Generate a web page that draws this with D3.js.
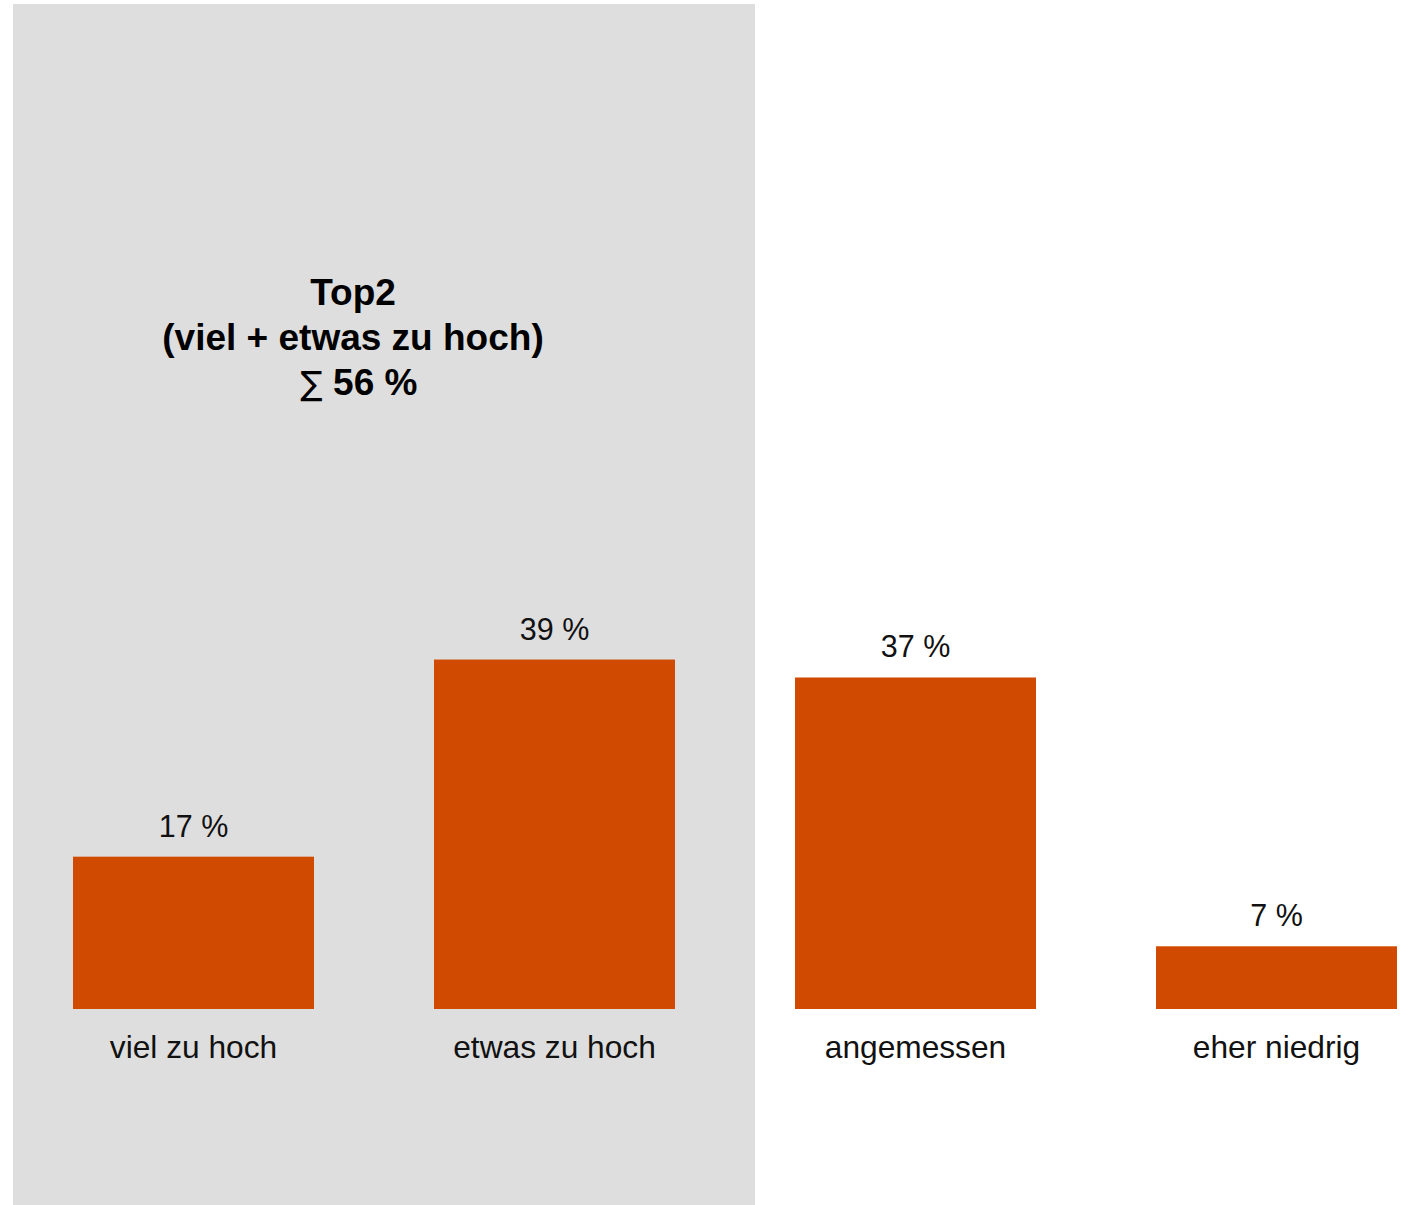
<!DOCTYPE html>
<html>
<head>
<meta charset="utf-8">
<script src="https://cdn.jsdelivr.net/npm/d3@7"></script>
<style>
  html, body { margin: 0; padding: 0; background: #ffffff; }
  svg { display: block; }
</style>
</head>
<body>
<script>
// Survey answers and their shares (percent)
const categories = ["viel zu hoch", "etwas zu hoch", "angemessen", "eher niedrig"];
const values = [17, 39, 37, 7];
// Categories grouped into the highlighted "Top2" block
const topCategories = ["viel zu hoch", "etwas zu hoch"];
const titleLines = ["Top2", "(viel + etwas zu hoch)"];
const sumSymbol = "\u2211";
const sumText = "56 %";

const W = 1404, H = 1205;
const baseline = 1009;
const pxPerPercent = 8.96;
const font = "Liberation Sans, Arial, sans-serif";

const svg = d3.select("body").append("svg")
  .attr("width", W).attr("height", H);

const x = d3.scaleBand()
  .domain(categories)
  .range([73, 1397])
  .paddingInner(120 / 361)
  .paddingOuter(0);

const y = d3.scaleLinear()
  .domain([0, 100])
  .range([baseline, baseline - 100 * pxPerPercent]);

// Shaded background behind the Top2 categories
const hlLeft = x(topCategories[0]) - 60;
const hlRight = x(topCategories[topCategories.length - 1]) + x.bandwidth() + 80;
svg.append("rect")
  .attr("x", hlLeft).attr("y", 4)
  .attr("width", hlRight - hlLeft).attr("height", H - 4)
  .attr("fill", "#dedede");

// Bars
svg.selectAll("rect.bar")
  .data(categories)
  .join("rect")
  .attr("class", "bar")
  .attr("x", d => x(d))
  .attr("y", (d, i) => y(values[i]))
  .attr("width", x.bandwidth())
  .attr("height", (d, i) => y(0) - y(values[i]))
  .attr("fill", "#d04a02");

// Value labels above bars
svg.selectAll("text.value")
  .data(categories)
  .join("text")
  .attr("class", "value")
  .attr("x", d => x(d) + x.bandwidth() / 2)
  .attr("y", (d, i) => y(values[i]) - 20)
  .attr("text-anchor", "middle")
  .attr("font-family", font)
  .attr("font-size", 30.5)
  .attr("fill", "#111")
  .text((d, i) => values[i] + " %");

// Category labels below the baseline
svg.selectAll("text.cat")
  .data(categories)
  .join("text")
  .attr("class", "cat")
  .attr("x", d => x(d) + x.bandwidth() / 2)
  .attr("y", baseline + 48.5)
  .attr("text-anchor", "middle")
  .attr("font-family", font)
  .attr("font-size", 31.7)
  .attr("fill", "#111")
  .text(d => d);

// Top2 summary text
const title = svg.append("text")
  .attr("text-anchor", "middle")
  .attr("font-family", font)
  .attr("font-size", 37)
  .attr("font-weight", "bold")
  .attr("fill", "#000");
titleLines.forEach((line, i) => {
  title.append("tspan")
    .attr("x", 353)
    .attr("y", 305 + i * 45)
    .text(line);
});

// Sum line: thin sigma followed by the bold total
const sumLine = svg.append("text")
  .attr("x", 359)
  .attr("y", 395)
  .attr("text-anchor", "middle")
  .attr("font-family", font)
  .attr("font-size", 37)
  .attr("fill", "#000");
sumLine.append("tspan")
  .attr("font-family", "DejaVu Sans, sans-serif")
  .attr("font-weight", "normal")
  .attr("font-size", 33)
  .text(sumSymbol);
sumLine.append("tspan")
  .attr("font-weight", "bold")
  .text("\u00a0" + sumText);
</script>
</body>
</html>
